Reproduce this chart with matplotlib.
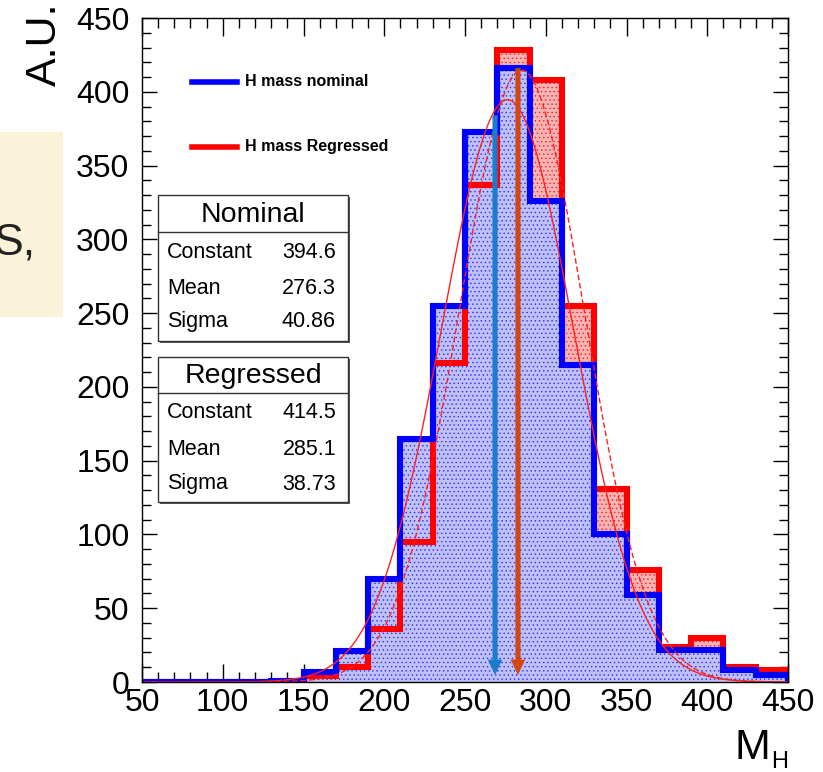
import numpy as np
import matplotlib
matplotlib.use("Agg")
import matplotlib.pyplot as plt
from matplotlib.patches import Rectangle
from matplotlib.lines import Line2D
from matplotlib.ticker import MultipleLocator

plt.rcParams['font.family'] = ['Liberation Sans', 'DejaVu Sans']
plt.rcParams['hatch.linewidth'] = 0.5

# ---- histogram data: Higgs candidate mass, 20 GeV bins ----
bin_edges = list(range(50, 451, 20))
nominal_counts = [0, 0, 0, 0, 1, 7, 21, 70, 165, 255, 373, 416, 326, 215,
                  100, 59, 22, 22, 8, 5]
regressed_counts = [0, 0, 0, 0, 0, 4, 10, 36, 95, 216, 337, 428, 408, 255,
                    131, 76, 24, 30, 10, 8]

# Gaussian fit results (constant, mean, sigma)
nominal_fit = [394.6, 276.3, 40.86]
regressed_fit = [414.5, 285.1, 38.73]
fit_labels = ["Constant", "Mean", "Sigma"]
fit_texts_nominal = ["394.6", "276.3", "40.86"]
fit_texts_regressed = ["414.5", "285.1", "38.73"]

# peak markers (x position, top of arrow)
arrow_x = [268.6, 282.8]
arrow_top = [384, 416]
arrow_tip = 4.7
arrow_colors = ["#1a7ccc", "#d2470f"]

W, H = 823, 772
fig = plt.figure(figsize=(W / 100, H / 100), dpi=100)


def fx(x):
    return x / W


def fy(y):
    return 1 - y / H


# side note panel peeking in from the left
fig.add_artist(Rectangle((fx(0), fy(317)), fx(63), (317 - 132) / H,
                         transform=fig.transFigure, facecolor="#fbf3d9",
                         edgecolor="none", zorder=0))
fig.text(fx(36), fy(243), "S,", ha="right", va="center", fontsize=32,
         color="#222222")

ax = fig.add_axes([fx(142), fy(682), (788 - 142) / W, (682 - 18) / H])
ax.set_xlim(50, 450)
ax.set_ylim(0, 450)

# filled histograms
ax.stairs(regressed_counts, bin_edges, fill=True, facecolor="#f5b4b4",
          edgecolor="#ff2020", linewidth=0, hatch="....", zorder=1)
ax.stairs(nominal_counts, bin_edges, fill=True, facecolor="#bfc0f6",
          edgecolor="#3030ff", linewidth=0, hatch="....", zorder=2)
# outlines
ax.stairs(regressed_counts, bin_edges, color="#ff0000", linewidth=4.4,
          zorder=3)
ax.stairs(nominal_counts, bin_edges, color="#0000ff", linewidth=4.4,
          zorder=4)

# Gaussian fits
xs = np.linspace(50, 450, 500)


def gauss(x, p):
    c, m, s = p
    return c * np.exp(-0.5 * ((x - m) / s) ** 2)


ax.plot(xs, gauss(xs, nominal_fit), color="#ff2020", lw=1.0, zorder=5)
ax.plot(xs, gauss(xs, regressed_fit), color="#ff2020", lw=1.0,
        dashes=(4, 2), zorder=5)

# peak arrows
for x0, top, col in zip(arrow_x, arrow_top, arrow_colors):
    ax.arrow(x0, top, 0, -(top - arrow_tip), width=3.2, head_width=9.0,
             head_length=10.5, length_includes_head=True, color=col,
             linewidth=0, zorder=6)

# axes styling
ax.xaxis.set_major_locator(MultipleLocator(50))
ax.xaxis.set_minor_locator(MultipleLocator(10))
ax.yaxis.set_major_locator(MultipleLocator(50))
ax.yaxis.set_minor_locator(MultipleLocator(10))
ax.tick_params(which="both", direction="in", top=True, right=True,
               width=1.0, color="black")
ax.tick_params(axis="x", which="major", length=13, pad=4, labelsize=23)
ax.tick_params(axis="x", which="minor", length=7)
ax.tick_params(axis="y", which="major", length=11, pad=9, labelsize=23)
ax.tick_params(axis="y", which="minor", length=6.5)
for sp in ax.spines.values():
    sp.set_linewidth(1.0)
    sp.set_zorder(10)

fig.text(fx(45), fy(3), "A.U.", rotation=90, ha="center", va="top",
         fontsize=31)
fig.text(fx(770), fy(759), "M", ha="right", va="baseline", fontsize=31)
fig.text(fx(771), fy(768), "H", ha="left", va="baseline", fontsize=17)

# legend
legend_rows = [("H mass nominal", "#0000ff", 82),
               ("H mass Regressed", "#ff0000", 147)]
for label, col, yy in legend_rows:
    fig.add_artist(Line2D([fx(192), fx(237)], [fy(yy), fy(yy)], color=col,
                          lw=4, transform=fig.transFigure, zorder=20))
    fig.text(fx(245), fy(yy), label, ha="left", va="center", fontsize=11.5,
             fontweight="bold", zorder=20)


# fit statistics boxes
def stat_box(top, bottom, header_line, title, values, row_y):
    fig.add_artist(Rectangle((fx(160), fy(bottom + 2)), 190 / W,
                             (bottom - top) / H, transform=fig.transFigure,
                             facecolor="#555555", edgecolor="none",
                             zorder=19))
    fig.add_artist(Rectangle((fx(158), fy(bottom)), 190 / W,
                             (bottom - top) / H, transform=fig.transFigure,
                             facecolor="white", edgecolor="#333333", lw=1.0,
                             zorder=20))
    fig.add_artist(Line2D([fx(158), fx(348)], [fy(header_line)] * 2,
                          color="#333333", lw=1.0,
                          transform=fig.transFigure, zorder=21))
    fig.text(fx(253), fy((top + header_line) / 2 + 1), title, ha="center",
             va="center", fontsize=20.5, zorder=22)
    for name, val, yy in zip(fit_labels, values, row_y):
        fig.text(fx(167), fy(yy), name, ha="left", va="center",
                 fontsize=15.5, zorder=22)
        fig.text(fx(336), fy(yy), val, ha="right", va="center",
                 fontsize=15.5, zorder=22)


stat_box(195, 341, 232, "Nominal", fit_texts_nominal, [252, 288, 322])
stat_box(357, 502, 393, "Regressed", fit_texts_regressed, [413, 450, 484])

fig.savefig("out.png", dpi=100)
